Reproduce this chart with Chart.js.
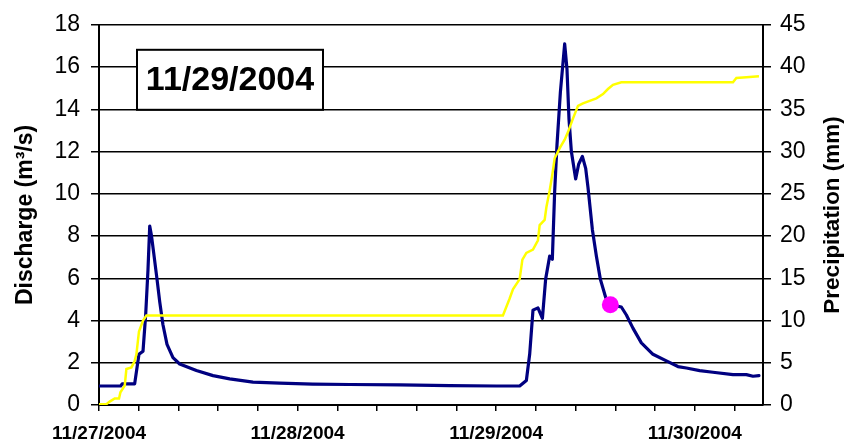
<!DOCTYPE html>
<html>
<head>
<meta charset="utf-8">
<script src="https://cdn.jsdelivr.net/npm/chart.js@4.4.1/dist/chart.umd.min.js"></script>
<style>
  html, body { margin: 0; padding: 0; background: #fff; }
  #wrap { width: 852px; height: 447px; }
</style>
</head>
<body>
<div id="wrap"><canvas id="c" width="852" height="447"></canvas></div>
<script>
// hours since 11/27/2004 00:00
const dayLabels = ['11/27/2004', '11/28/2004', '11/29/2004', '11/30/2004'];

const qHours = [0, 2.62, 2.8, 4.31, 4.83, 5.32, 5.64, 5.92, 6.13, 6.33, 6.61, 7.01, 7.34, 7.73, 8.22, 8.94, 9.75,
  11.77, 13.78, 15.8, 18.61, 21.84, 25.83, 30.3, 36.34, 42.38, 48.03, 50.84, 51.65, 52.05, 52.45, 53.05, 53.59,
  53.98, 54.47, 54.79, 55.07, 55.35, 55.76, 56.28, 56.56, 56.8, 57.09, 57.61, 57.97, 58.42, 58.82, 59.1, 59.63,
  60.11, 60.59, 61.23, 61.8, 63.13, 63.74, 64.53, 65.55, 66.95, 68.57, 69.97, 70.99, 72.6, 74.2, 76.62, 78.24,
  79.04, 79.76];
const discharge = [0.9, 0.9, 1.0, 1.0, 2.4, 2.55, 4.27, 6.4, 8.47, 8.05, 7.2, 5.96, 4.88, 3.8, 2.87, 2.24, 1.94,
  1.63, 1.39, 1.24, 1.08, 1.04, 0.99, 0.97, 0.95, 0.92, 0.9, 0.9, 1.16, 2.4, 4.49, 4.6, 4.1,
  5.96, 7.05, 6.9, 10.1, 12.3, 14.8, 17.1, 15.9, 13.55, 12.0, 10.7, 11.4, 11.77, 11.2, 10.3, 8.3,
  7.05, 5.96, 5.1, 4.75, 4.64, 4.26, 3.64, 2.94, 2.4, 2.09, 1.82, 1.75, 1.63, 1.55, 1.44, 1.44,
  1.36, 1.39];

const pHours = [0, 0.89, 1.29, 1.9, 2.42, 2.59, 3.11, 3.31, 3.92, 4.31, 4.52, 4.83, 5.32, 5.73, 48.82, 49.63,
  50.03, 50.84, 51.17, 51.65, 52.45, 53.05, 53.26, 53.86, 54.07, 54.47, 54.79, 55.07, 55.68, 56.28, 56.68,
  57.28, 57.89, 58.49, 59.3, 60.11, 60.91, 61.51, 62.12, 63.13, 76.62, 77.03, 78.24, 79.76];
const precip = [0.1, 0.1, 0.4, 0.78, 0.78, 1.5, 2.3, 4.26, 4.45, 5.2, 6.0, 8.7, 10.0, 10.6, 10.6, 12.6,
  13.7, 14.9, 17.2, 18.0, 18.4, 19.5, 21.3, 21.9, 23.4, 25.4, 27.3, 29.2, 30.4, 31.4, 32.3,
  33.9, 35.4, 35.7, 36.0, 36.3, 36.8, 37.4, 37.9, 38.2, 38.2, 38.7, 38.8, 38.9];

const markHour = [61.8];
const markQ = [4.75];

const FONT = "Arial, 'Liberation Sans', sans-serif";

function pts(xs, ys) { return xs.map((x, i) => ({ x: x, y: ys[i] })); }

// date box + right axis title (reads bottom to top like the left one)
const extras = {
  id: 'extras',
  afterDraw(chart) {
    const ctx = chart.ctx, a = chart.chartArea;
    ctx.save();
    const bx = a.left + 38, by = a.top + 25, bw = 186, bh = 60;
    ctx.fillStyle = '#fff';
    ctx.fillRect(bx, by, bw, bh);
    ctx.strokeStyle = '#000';
    ctx.lineWidth = 2;
    ctx.strokeRect(bx, by, bw, bh);
    ctx.fillStyle = '#000';
    ctx.font = 'bold 34px ' + FONT;
    ctx.textAlign = 'center';
    ctx.textBaseline = 'middle';
    ctx.fillText('11/29/2004', bx + bw / 2, by + bh / 2 + 1);

    ctx.translate(833, (a.top + a.bottom) / 2);
    ctx.rotate(-Math.PI / 2);
    ctx.font = 'bold 22.5px ' + FONT;
    ctx.fillText('Precipitation (mm)', 0, 0);
    ctx.restore();
  }
};

new Chart(document.getElementById('c').getContext('2d'), {
  type: 'line',
  data: {
    datasets: [
      { label: 'mark', data: pts(markHour, markQ), yAxisID: 'y', showLine: false,
        pointRadius: 8.5, pointBackgroundColor: '#ff00ff', pointBorderWidth: 0, order: 0 },
      { label: 'Precipitation', data: pts(pHours, precip), yAxisID: 'y2',
        borderColor: '#ffff00', borderWidth: 2.5, pointRadius: 0, tension: 0, order: 1 },
      { label: 'Discharge', data: pts(qHours, discharge), yAxisID: 'y',
        borderColor: '#000080', borderWidth: 3.2, pointRadius: 0, tension: 0, order: 2,
        borderJoinStyle: 'round', borderCapStyle: 'round' }
    ]
  },
  options: {
    responsive: false, animation: false,
    layout: { padding: { top: 17, left: 0, right: 0, bottom: 0 } },
    plugins: { legend: { display: false }, tooltip: { enabled: false } },
    scales: {
      x: {
        type: 'linear', min: 0, max: 80.25,
        border: { color: '#000', width: 2 },
        grid: { drawOnChartArea: false, color: '#000', tickLength: 6, lineWidth: 1.5 },
        ticks: {
          stepSize: 4.8, includeBounds: false, autoSkip: false, maxRotation: 0, padding: 11,
          color: '#000', font: { family: FONT, size: 19, weight: 'bold' },
          callback: v => {
            const d = Math.round(v / 24 * 1000) / 1000;
            return Number.isInteger(d) ? (dayLabels[d] || '') : '';
          }
        },
        afterFit: s => { s.height = 42; }
      },
      y: {
        position: 'left', min: 0, max: 18,
        border: { color: '#000', width: 2 },
        grid: { color: '#000', lineWidth: 1.5, tickLength: 8 },
        ticks: { stepSize: 2, padding: 11, color: '#000', font: { family: FONT, size: 23 } },
        title: { display: true, text: 'Discharge (m³/s)', color: '#000',
          font: { family: FONT, size: 23, weight: 'bold' }, padding: { top: 12, bottom: 0 } },
        afterFit: s => { s.width = 99; }
      },
      y2: {
        position: 'right', min: 0, max: 45,
        border: { color: '#000', width: 2 },
        grid: { drawOnChartArea: false, color: '#000', lineWidth: 1.5, tickLength: 8 },
        ticks: { stepSize: 5, padding: 9, color: '#000', font: { family: FONT, size: 23 } },
        afterFit: s => { s.width = 89; }
      }
    }
  },
  plugins: [extras]
});
</script>
</body>
</html>
